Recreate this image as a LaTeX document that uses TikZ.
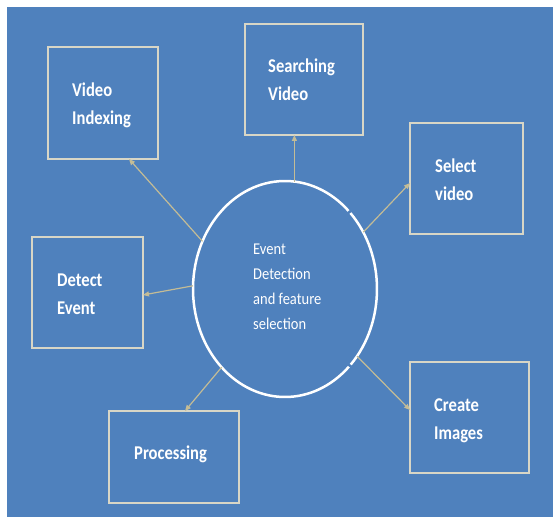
\documentclass[tikz,border=0pt]{standalone}
\usepackage{fontspec}
\newfontfamily\boxfont{Carlito}[FakeStretch=0.85]
\newfontfamily\cirfont{Carlito}[FakeStretch=0.88]
\usetikzlibrary{arrows.meta,shapes.geometric}
\definecolor{bgblue}{HTML}{4F81BD}
\definecolor{boxline}{HTML}{D8D6C6}
\definecolor{arrowtan}{HTML}{C4BC96}
\newcommand{\textlines}[1]{\begin{tabular}[t]{@{}l@{}}#1\end{tabular}}
\begin{document}
\begin{tikzpicture}[x=1pt,y=1pt,
  stepbox/.style={draw=boxline, line width=2pt, inner sep=0pt, outer sep=0pt},
  boxtext/.style={font=\boxfont\bfseries\fontsize{19.5}{28}\selectfont, text=white, inner sep=0pt, anchor=base west},
  cirtext/.style={font=\cirfont\fontsize{16.5}{25}\selectfont, text=white, inner sep=0pt, anchor=base west},
  ringline/.style={draw=white, line width=2.5pt},
  conn/.style={draw=arrowtan, line width=1.2pt, -{Triangle[length=6pt,width=5pt]}}]
\useasboundingbox (0,0) rectangle (553,520);
\fill[white] (0,0) rectangle (553,520);
\fill[bgblue] (7,3) rectangle (553,513);
% central ellipse
\node[ellipse, minimum width=184pt, minimum height=216pt, inner sep=0pt, outer sep=0pt, draw=none] (c) at (285,231) {};
\draw[ringline] (c.center) ++(46.3:92 and 108) arc[start angle=46.3, end angle=314, x radius=92, y radius=108];
\draw[ringline] (c.center) ++(-44.4:92 and 108) arc[start angle=-44.4, end angle=44.7, x radius=92, y radius=108];
\node[cirtext] (ct) at (253,266) {\textlines{Event\\Detection\\and feature\\selection}};
% boxes
\node[stepbox, minimum width=110pt, minimum height=112pt] (vi) at (103,417) {};
\node[stepbox, minimum width=118pt, minimum height=111pt] (sv) at (304,440.5) {};
\node[stepbox, minimum width=113pt, minimum height=111pt] (sel) at (466.5,341.5) {};
\node[stepbox, minimum width=111pt, minimum height=111pt] (de) at (87.5,227.5) {};
\node[stepbox, minimum width=130pt, minimum height=92pt] (pr) at (174,63) {};
\node[stepbox, minimum width=119pt, minimum height=111pt] (ci) at (469.5,102.5) {};
% box texts
\node[boxtext] (vit) at (72,423) {\textlines{Video\\Indexing}};
\node[boxtext] (svt) at (268,447) {\textlines{Searching\\Video}};
\node[boxtext] (selt) at (435,347) {\textlines{Select\\video}};
\node[boxtext] (det) at (57,234) {\textlines{Detect\\Event}};
\node[boxtext] (prt) at (134,61) {\textlines{Processing}};
\node[boxtext] (cit) at (434,109) {\textlines{Create\\Images}};
% connectors
\draw[conn] (c.85) -- (c.85 |- sv.south);
\draw[conn] (c.150) -- ([xshift=26pt]vi.south);
\draw[conn] (c.178) -- ([yshift=-2.5pt]de.east);
\draw[conn] (c.231) -- ([xshift=11pt]pr.north);
\draw[conn] (c.317) -- ([yshift=7.5pt]ci.west);
\draw[conn] (c.36) -- ([yshift=-4.5pt]sel.west);
\end{tikzpicture}
\end{document}
